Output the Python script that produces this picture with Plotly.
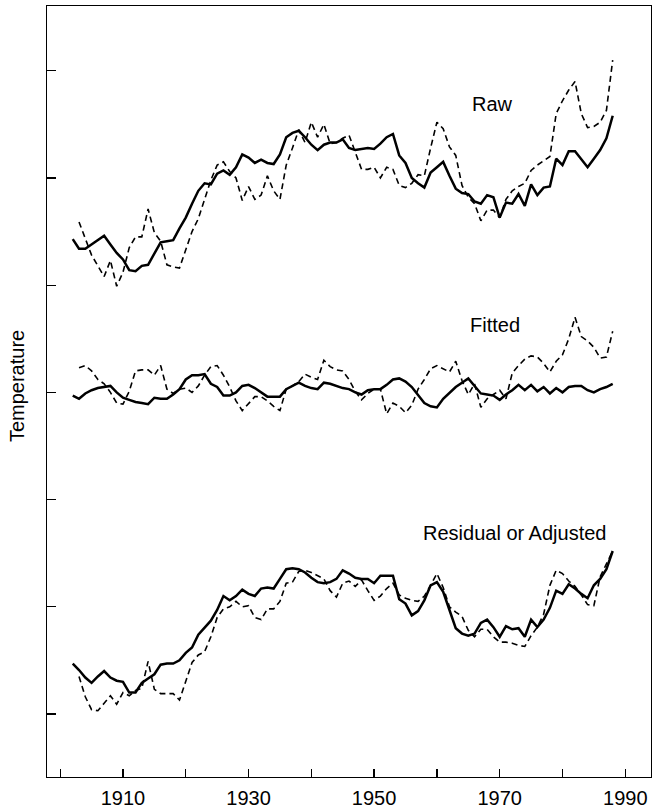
import plotly.graph_objects as go

years_solid = list(range(1902, 1989))
years_dash = list(range(1903, 1989))

raw_solid = [4.43, 4.34, 4.34, 4.38, 4.42, 4.46, 4.38, 4.30, 4.24, 4.14,
             4.13, 4.18, 4.19, 4.30, 4.40, 4.41, 4.42, 4.53, 4.63, 4.76,
             4.88, 4.95, 4.94, 5.04, 5.07, 5.03, 5.10, 5.22, 5.19, 5.14,
             5.17, 5.14, 5.13, 5.22, 5.38, 5.42, 5.44, 5.38, 5.31, 5.26,
             5.31, 5.33, 5.33, 5.36, 5.28, 5.26, 5.27, 5.28, 5.27, 5.32,
             5.38, 5.41, 5.21, 5.14, 5.00, 4.95, 4.91, 5.05, 5.10, 5.15,
             5.02, 4.90, 4.86, 4.85, 4.78, 4.76, 4.84, 4.82, 4.63, 4.77,
             4.76, 4.85, 4.74, 4.94, 4.84, 4.91, 4.92, 5.18, 5.12, 5.25,
             5.25, 5.18, 5.10, 5.18, 5.26, 5.37, 5.58]

raw_dash = [4.59, 4.43, 4.28, 4.18, 4.08, 4.23, 3.99, 4.12, 4.35, 4.45,
            4.45, 4.71, 4.49, 4.41, 4.19, 4.17, 4.16, 4.33, 4.50, 4.62,
            4.80, 4.98, 5.12, 5.15, 5.06, 5.00, 4.79, 4.92, 4.80, 4.84,
            5.02, 4.88, 4.80, 5.12, 5.28, 5.45, 5.33, 5.52, 5.38, 5.50,
            5.32, 5.33, 5.37, 5.40, 5.24, 5.08, 5.08, 5.10, 5.00, 5.10,
            5.08, 4.93, 4.91, 4.95, 5.03, 5.02, 5.28, 5.52, 5.46, 5.29,
            5.21, 4.93, 4.82, 4.76, 4.60, 4.70, 4.70, 4.63, 4.80, 4.88,
            4.92, 4.95, 5.07, 5.12, 5.16, 5.20, 5.60, 5.72, 5.82, 5.90,
            5.60, 5.47, 5.48, 5.52, 5.63, 6.10]

fit_solid = [2.97, 2.94, 2.99, 3.02, 3.04, 3.05, 3.06, 3.00, 2.95, 2.93,
             2.91, 2.90, 2.89, 2.95, 2.94, 2.94, 2.98, 3.03, 3.12, 3.16,
             3.16, 3.17, 3.08, 3.05, 2.97, 2.97, 3.00, 3.06, 3.07, 3.04,
             3.00, 2.96, 2.96, 2.96, 3.03, 3.06, 3.09, 3.06, 3.04, 3.03,
             3.09, 3.08, 3.06, 3.04, 3.03, 3.00, 2.98, 3.02, 3.03, 3.03,
             3.07, 3.12, 3.13, 3.10, 3.05, 2.97, 2.90, 2.87, 2.86, 2.94,
             3.00, 3.05, 3.09, 3.13, 3.06, 2.99, 2.98, 2.97, 2.93, 2.98,
             3.02, 3.07, 3.02, 3.07, 3.01, 3.05, 2.99, 3.04, 3.00, 3.05,
             3.06, 3.06, 3.02, 3.00, 3.03, 3.05, 3.08]

fit_dash = [3.23, 3.25, 3.20, 3.12, 3.08, 3.00, 2.90, 2.89, 3.01, 3.20,
            3.21, 3.21, 3.16, 3.25, 3.03, 2.99, 3.03, 3.04, 3.00, 3.06,
            3.16, 3.24, 3.25, 3.16, 3.05, 2.92, 2.83, 2.90, 2.96, 2.96,
            2.92, 2.87, 2.83, 3.03, 3.06, 3.10, 3.17, 3.14, 3.12, 3.30,
            3.24, 3.21, 3.20, 3.12, 3.01, 2.93, 2.99, 3.03, 3.03, 2.80,
            2.90, 2.87, 2.81, 2.88, 3.03, 3.12, 3.22, 3.25, 3.22, 3.19,
            3.29, 3.11, 2.98, 3.08, 2.86, 2.94, 2.98, 3.02, 2.94, 3.18,
            3.25, 3.31, 3.34, 3.33, 3.27, 3.19, 3.29, 3.35, 3.50, 3.70,
            3.52, 3.48, 3.42, 3.32, 3.33, 3.57]

adj_solid = [0.47, 0.41, 0.34, 0.29, 0.35, 0.40, 0.34, 0.31, 0.30, 0.20,
             0.20, 0.29, 0.33, 0.37, 0.46, 0.47, 0.47, 0.50, 0.57, 0.62,
             0.74, 0.80, 0.87, 0.97, 1.10, 1.06, 1.10, 1.16, 1.12, 1.10,
             1.17, 1.18, 1.17, 1.26, 1.35, 1.36, 1.35, 1.32, 1.27, 1.23,
             1.22, 1.23, 1.26, 1.34, 1.31, 1.27, 1.26, 1.26, 1.22, 1.29,
             1.29, 1.29, 1.07, 1.03, 0.92, 0.96, 1.06, 1.20, 1.23, 1.14,
             0.97, 0.80, 0.75, 0.73, 0.75, 0.85, 0.88, 0.81, 0.72, 0.82,
             0.79, 0.80, 0.72, 0.88, 0.81, 0.88, 0.99, 1.15, 1.12, 1.21,
             1.17, 1.12, 1.08, 1.20, 1.26, 1.35, 1.52]

adj_dash = [0.35, 0.16, 0.04, 0.03, 0.10, 0.17, 0.09, 0.20, 0.17, 0.22,
            0.24, 0.49, 0.23, 0.19, 0.19, 0.19, 0.13, 0.30, 0.48, 0.55,
            0.58, 0.72, 0.90, 0.98, 1.00, 1.05, 1.00, 1.01, 0.90, 0.88,
            0.98, 0.98, 1.05, 1.22, 1.23, 1.33, 1.34, 1.32, 1.29, 1.26,
            1.15, 1.09, 1.22, 1.24, 1.19, 1.25, 1.15, 1.06, 1.10, 1.17,
            1.22, 1.11, 1.08, 1.06, 1.05, 1.10, 1.20, 1.31, 1.18, 1.00,
            0.95, 0.91, 0.78, 0.72, 0.79, 0.79, 0.72, 0.67, 0.67, 0.66,
            0.64, 0.63, 0.73, 0.81, 0.93, 1.20, 1.34, 1.31, 1.24, 1.19,
            1.11, 1.02, 1.01, 1.28, 1.40, 1.52]

x_tick_vals = list(range(1900, 1991, 10))
x_tick_text = ["", "1910", "", "1930", "", "1950", "", "1970", "", "1990"]
y_tick_vals = [0, 1, 2, 3, 4, 5, 6]

panel_labels = ["Raw", "Fitted", "Residual or Adjusted"]
label_x = [1968.8, 1969.2, 1972.3]
label_y = [5.69, 3.63, 1.69]

FONT = "Liberation Sans, Arial, Helvetica, sans-serif"
solid_style = dict(color="black", width=2.5)
dash_style = dict(color="black", width=1.6, dash="6px,4px")

fig = go.Figure()
for ys in (raw_solid, fit_solid, adj_solid):
    fig.add_trace(go.Scatter(x=years_solid, y=ys, mode="lines",
                             line=solid_style, showlegend=False,
                             hoverinfo="skip"))
for ys in (raw_dash, fit_dash, adj_dash):
    fig.add_trace(go.Scatter(x=years_dash, y=ys, mode="lines",
                             line=dash_style, showlegend=False,
                             hoverinfo="skip"))

for t, lx, ly in zip(panel_labels, label_x, label_y):
    fig.add_annotation(x=lx, y=ly, xref="x", yref="y", text=t,
                       showarrow=False, xanchor="center", yanchor="middle",
                       font=dict(family=FONT, size=20, color="black"))

fig.add_annotation(x=-0.0497, y=0.507, xref="paper", yref="paper",
                   text="Temperature", textangle=-90, showarrow=False,
                   xanchor="center", yanchor="middle",
                   font=dict(family=FONT, size=20, color="black"))

fig.update_layout(
    width=652, height=810,
    margin=dict(l=47, r=1, t=6, b=33, pad=0),
    plot_bgcolor="white", paper_bgcolor="white",
    font=dict(family=FONT, size=20, color="black"),
    hovermode=False,
    xaxis=dict(range=[1897.9, 1994.1], showgrid=False, zeroline=False,
               showline=True, linecolor="black", linewidth=1.3, mirror=True,
               ticks="inside", ticklen=8, tickwidth=1.3, tickcolor="black",
               tickvals=x_tick_vals, ticktext=x_tick_text,
               tickfont=dict(family=FONT, size=20, color="black")),
    yaxis=dict(range=[-0.588, 6.604], showgrid=False, zeroline=False,
               showline=True, linecolor="black", linewidth=1.3, mirror=True,
               ticks="inside", ticklen=9, tickwidth=1.3, tickcolor="black",
               tickvals=y_tick_vals, showticklabels=False),
)

try:
    fig.update_xaxes(ticklabelstandoff=3)
except Exception:
    pass

fig.write_html(
    "out.html",
    config={"displayModeBar": False, "staticPlot": True},
    post_script="document.body.style.margin='0';document.body.style.overflow='hidden';",
)
